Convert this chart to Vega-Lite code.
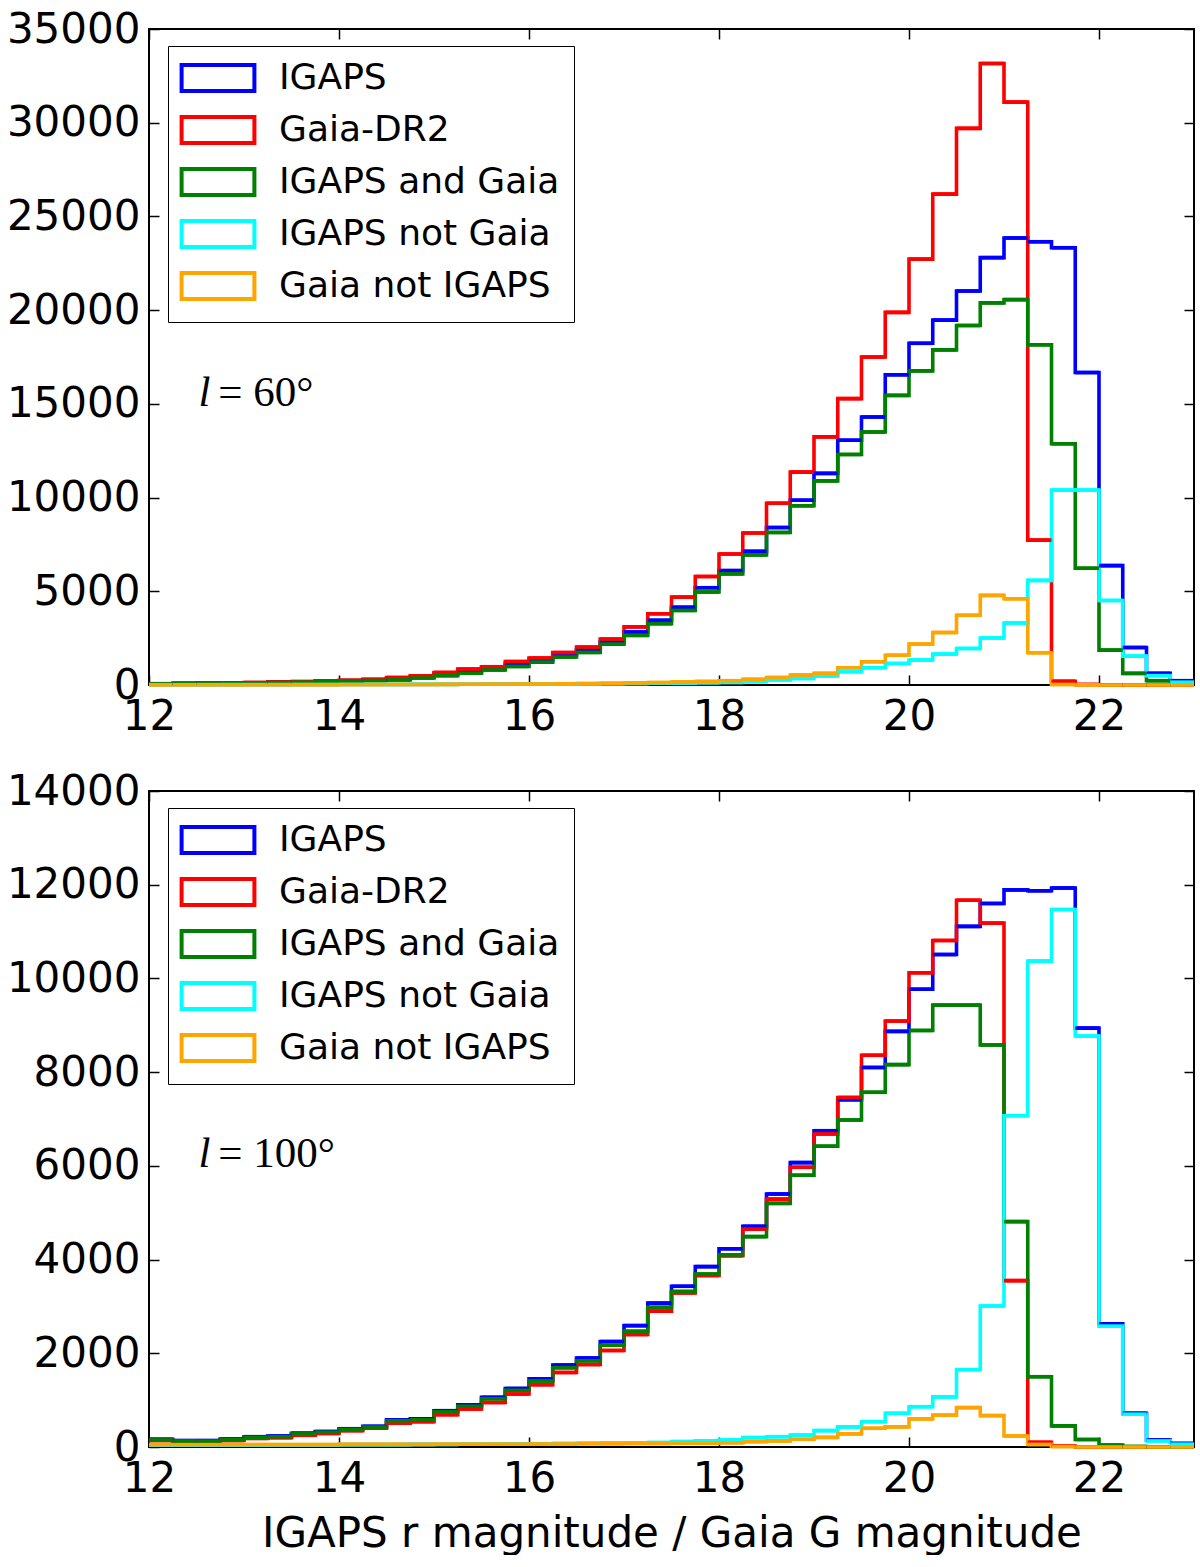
{
  "$schema": "https://vega.github.io/schema/vega-lite/v6.json",
  "padding": {"left": 5, "top": 7, "right": 0, "bottom": 0},
  "spacing": 31,
  "datasets": {
    "top": [
      {"m": 12.0, "m2": 12.25, "igaps": 65, "gaia": 70, "both": 60, "ionly": 15, "gonly": 10},
      {"m": 12.25, "m2": 12.5, "igaps": 80, "gaia": 90, "both": 70, "ionly": 15, "gonly": 10},
      {"m": 12.5, "m2": 12.75, "igaps": 85, "gaia": 90, "both": 80, "ionly": 15, "gonly": 15},
      {"m": 12.75, "m2": 13.0, "igaps": 100, "gaia": 110, "both": 90, "ionly": 20, "gonly": 15},
      {"m": 13.0, "m2": 13.25, "igaps": 120, "gaia": 130, "both": 110, "ionly": 20, "gonly": 15},
      {"m": 13.25, "m2": 13.5, "igaps": 145, "gaia": 160, "both": 130, "ionly": 20, "gonly": 20},
      {"m": 13.5, "m2": 13.75, "igaps": 165, "gaia": 180, "both": 150, "ionly": 25, "gonly": 20},
      {"m": 13.75, "m2": 14.0, "igaps": 200, "gaia": 220, "both": 180, "ionly": 25, "gonly": 20},
      {"m": 14.0, "m2": 14.25, "igaps": 230, "gaia": 250, "both": 210, "ionly": 30, "gonly": 25},
      {"m": 14.25, "m2": 14.5, "igaps": 275, "gaia": 300, "both": 240, "ionly": 30, "gonly": 25},
      {"m": 14.5, "m2": 14.75, "igaps": 330, "gaia": 400, "both": 270, "ionly": 30, "gonly": 30},
      {"m": 14.75, "m2": 15.0, "igaps": 430, "gaia": 490, "both": 370, "ionly": 35, "gonly": 30},
      {"m": 15.0, "m2": 15.25, "igaps": 580, "gaia": 670, "both": 500, "ionly": 35, "gonly": 35},
      {"m": 15.25, "m2": 15.5, "igaps": 740, "gaia": 850, "both": 630, "ionly": 40, "gonly": 40},
      {"m": 15.5, "m2": 15.75, "igaps": 890, "gaia": 975, "both": 800, "ionly": 45, "gonly": 45},
      {"m": 15.75, "m2": 16.0, "igaps": 1120, "gaia": 1250, "both": 990, "ionly": 50, "gonly": 50},
      {"m": 16.0, "m2": 16.25, "igaps": 1330, "gaia": 1440, "both": 1220, "ionly": 55, "gonly": 55},
      {"m": 16.25, "m2": 16.5, "igaps": 1610, "gaia": 1730, "both": 1490, "ionly": 60, "gonly": 65},
      {"m": 16.5, "m2": 16.75, "igaps": 1880, "gaia": 2020, "both": 1740, "ionly": 65, "gonly": 75},
      {"m": 16.75, "m2": 17.0, "igaps": 2300, "gaia": 2450, "both": 2180, "ionly": 70, "gonly": 90},
      {"m": 17.0, "m2": 17.25, "igaps": 2830, "gaia": 3100, "both": 2650, "ionly": 80, "gonly": 110},
      {"m": 17.25, "m2": 17.5, "igaps": 3450, "gaia": 3800, "both": 3270, "ionly": 90, "gonly": 130},
      {"m": 17.5, "m2": 17.75, "igaps": 4150, "gaia": 4690, "both": 3980, "ionly": 100, "gonly": 160},
      {"m": 17.75, "m2": 18.0, "igaps": 5190, "gaia": 5790, "both": 4960, "ionly": 120, "gonly": 190},
      {"m": 18.0, "m2": 18.25, "igaps": 6100, "gaia": 6990, "both": 5930, "ionly": 140, "gonly": 230},
      {"m": 18.25, "m2": 18.5, "igaps": 7130, "gaia": 8110, "both": 6940, "ionly": 180, "gonly": 300},
      {"m": 18.5, "m2": 18.75, "igaps": 8400, "gaia": 9700, "both": 8140, "ionly": 270, "gonly": 400},
      {"m": 18.75, "m2": 19.0, "igaps": 9860, "gaia": 11360, "both": 9560, "ionly": 350, "gonly": 530},
      {"m": 19.0, "m2": 19.25, "igaps": 11290, "gaia": 13240, "both": 10890, "ionly": 480, "gonly": 620},
      {"m": 19.25, "m2": 19.5, "igaps": 13060, "gaia": 15280, "both": 12300, "ionly": 710, "gonly": 920},
      {"m": 19.5, "m2": 19.75, "igaps": 14300, "gaia": 17500, "both": 13500, "ionly": 920, "gonly": 1240},
      {"m": 19.75, "m2": 20.0, "igaps": 16550, "gaia": 19880, "both": 15450, "ionly": 1150, "gonly": 1590},
      {"m": 20.0, "m2": 20.25, "igaps": 18230, "gaia": 22720, "both": 16760, "ionly": 1330, "gonly": 2180},
      {"m": 20.25, "m2": 20.5, "igaps": 19470, "gaia": 26190, "both": 17880, "ionly": 1650, "gonly": 2800},
      {"m": 20.5, "m2": 20.75, "igaps": 21020, "gaia": 29700, "both": 19180, "ionly": 1950, "gonly": 3720},
      {"m": 20.75, "m2": 21.0, "igaps": 22800, "gaia": 33160, "both": 20390, "ionly": 2510, "gonly": 4780},
      {"m": 21.0, "m2": 21.25, "igaps": 23850, "gaia": 31100, "both": 20560, "ionly": 3310, "gonly": 4600},
      {"m": 21.25, "m2": 21.5, "igaps": 23650, "gaia": 7730, "both": 18150, "ionly": 5580, "gonly": 1720},
      {"m": 21.5, "m2": 21.75, "igaps": 23330, "gaia": 200, "both": 12870, "ionly": 10400, "gonly": 30},
      {"m": 21.75, "m2": 22.0, "igaps": 16670, "gaia": 30, "both": 6230, "ionly": 10400, "gonly": 10},
      {"m": 22.0, "m2": 22.25, "igaps": 6370, "gaia": 10, "both": 1860, "ionly": 4510, "gonly": 0},
      {"m": 22.25, "m2": 22.5, "igaps": 2000, "gaia": 0, "both": 620, "ionly": 1540, "gonly": 0},
      {"m": 22.5, "m2": 22.75, "igaps": 620, "gaia": 0, "both": 230, "ionly": 500, "gonly": 0},
      {"m": 22.75, "m2": 23.0, "igaps": 230, "gaia": 0, "both": 50, "ionly": 150, "gonly": 0}
    ],
    "bottom": [
      {"m": 12.0, "m2": 12.25, "igaps": 165, "gaia": 140, "both": 150, "ionly": 40, "gonly": 50},
      {"m": 12.25, "m2": 12.5, "igaps": 135, "gaia": 120, "both": 125, "ionly": 40, "gonly": 50},
      {"m": 12.5, "m2": 12.75, "igaps": 135, "gaia": 115, "both": 125, "ionly": 40, "gonly": 50},
      {"m": 12.75, "m2": 13.0, "igaps": 170, "gaia": 140, "both": 160, "ionly": 40, "gonly": 50},
      {"m": 13.0, "m2": 13.25, "igaps": 220, "gaia": 185, "both": 205, "ionly": 40, "gonly": 50},
      {"m": 13.25, "m2": 13.5, "igaps": 235, "gaia": 200, "both": 220, "ionly": 45, "gonly": 50},
      {"m": 13.5, "m2": 13.75, "igaps": 295, "gaia": 250, "both": 280, "ionly": 45, "gonly": 50},
      {"m": 13.75, "m2": 14.0, "igaps": 330, "gaia": 290, "both": 315, "ionly": 45, "gonly": 50},
      {"m": 14.0, "m2": 14.25, "igaps": 390, "gaia": 350, "both": 375, "ionly": 50, "gonly": 55},
      {"m": 14.25, "m2": 14.5, "igaps": 440, "gaia": 400, "both": 425, "ionly": 50, "gonly": 55},
      {"m": 14.5, "m2": 14.75, "igaps": 580, "gaia": 510, "both": 560, "ionly": 50, "gonly": 55},
      {"m": 14.75, "m2": 15.0, "igaps": 600, "gaia": 540, "both": 580, "ionly": 55, "gonly": 55},
      {"m": 15.0, "m2": 15.25, "igaps": 775, "gaia": 690, "both": 750, "ionly": 55, "gonly": 60},
      {"m": 15.25, "m2": 15.5, "igaps": 900, "gaia": 810, "both": 870, "ionly": 60, "gonly": 60},
      {"m": 15.5, "m2": 15.75, "igaps": 1060, "gaia": 950, "both": 1030, "ionly": 60, "gonly": 60},
      {"m": 15.75, "m2": 16.0, "igaps": 1250, "gaia": 1130, "both": 1210, "ionly": 65, "gonly": 60},
      {"m": 16.0, "m2": 16.25, "igaps": 1455, "gaia": 1330, "both": 1410, "ionly": 70, "gonly": 65},
      {"m": 16.25, "m2": 16.5, "igaps": 1750, "gaia": 1590, "both": 1690, "ionly": 75, "gonly": 65},
      {"m": 16.5, "m2": 16.75, "igaps": 1900, "gaia": 1760, "both": 1840, "ionly": 80, "gonly": 70},
      {"m": 16.75, "m2": 17.0, "igaps": 2250, "gaia": 2060, "both": 2170, "ionly": 85, "gonly": 70},
      {"m": 17.0, "m2": 17.25, "igaps": 2590, "gaia": 2400, "both": 2470, "ionly": 90, "gonly": 75},
      {"m": 17.25, "m2": 17.5, "igaps": 3070, "gaia": 2900, "both": 2980, "ionly": 95, "gonly": 75},
      {"m": 17.5, "m2": 17.75, "igaps": 3430, "gaia": 3290, "both": 3320, "ionly": 115, "gonly": 80},
      {"m": 17.75, "m2": 18.0, "igaps": 3850, "gaia": 3660, "both": 3690, "ionly": 130, "gonly": 80},
      {"m": 18.0, "m2": 18.25, "igaps": 4230, "gaia": 4080, "both": 4100, "ionly": 150, "gonly": 90},
      {"m": 18.25, "m2": 18.5, "igaps": 4710, "gaia": 4650, "both": 4490, "ionly": 200, "gonly": 115},
      {"m": 18.5, "m2": 18.75, "igaps": 5400, "gaia": 5290, "both": 5200, "ionly": 220, "gonly": 130},
      {"m": 18.75, "m2": 19.0, "igaps": 6070, "gaia": 5970, "both": 5800, "ionly": 255, "gonly": 165},
      {"m": 19.0, "m2": 19.25, "igaps": 6750, "gaia": 6680, "both": 6420, "ionly": 350, "gonly": 205},
      {"m": 19.25, "m2": 19.5, "igaps": 7410, "gaia": 7460, "both": 6980, "ionly": 430, "gonly": 280},
      {"m": 19.5, "m2": 19.75, "igaps": 8100, "gaia": 8360, "both": 7570, "ionly": 540, "gonly": 400},
      {"m": 19.75, "m2": 20.0, "igaps": 8870, "gaia": 9090, "both": 8160, "ionly": 720, "gonly": 430},
      {"m": 20.0, "m2": 20.25, "igaps": 9770, "gaia": 10120, "both": 8890, "ionly": 860, "gonly": 600},
      {"m": 20.25, "m2": 20.5, "igaps": 10510, "gaia": 10810, "both": 9430, "ionly": 1070, "gonly": 680},
      {"m": 20.5, "m2": 20.75, "igaps": 11110, "gaia": 11670, "both": 9430, "ionly": 1650, "gonly": 840},
      {"m": 20.75, "m2": 21.0, "igaps": 11600, "gaia": 11180, "both": 8580, "ionly": 3010, "gonly": 670},
      {"m": 21.0, "m2": 21.25, "igaps": 11890, "gaia": 3550, "both": 4810, "ionly": 7070, "gonly": 235},
      {"m": 21.25, "m2": 21.5, "igaps": 11870, "gaia": 100, "both": 1500, "ionly": 10370, "gonly": 55},
      {"m": 21.5, "m2": 21.75, "igaps": 11930, "gaia": 20, "both": 450, "ionly": 11470, "gonly": 10},
      {"m": 21.75, "m2": 22.0, "igaps": 8940, "gaia": 0, "both": 160, "ionly": 8770, "gonly": 0},
      {"m": 22.0, "m2": 22.25, "igaps": 2630, "gaia": 0, "both": 40, "ionly": 2580, "gonly": 0},
      {"m": 22.25, "m2": 22.5, "igaps": 720, "gaia": 0, "both": 10, "ionly": 700, "gonly": 0},
      {"m": 22.5, "m2": 22.75, "igaps": 150, "gaia": 0, "both": 0, "ionly": 130, "gonly": 0},
      {"m": 22.75, "m2": 23.0, "igaps": 80, "gaia": 0, "both": 0, "ionly": 60, "gonly": 0}
    ]
  },
  "vconcat": [
    {
      "width": 1045,
      "height": 656,
      "layer": [
        {
          "data": {"name": "top"},
          "transform": [{"fold": ["igaps", "gaia", "both", "ionly", "gonly"], "as": ["s", "n"]}],
          "mark": {"type": "line", "interpolate": "step-after", "strokeWidth": 3.6},
          "encoding": {
            "x": {"field": "m", "type": "quantitative", "scale": {"domain": [12, 23], "nice": false, "zero": false},
                  "axis": {"orient": "bottom", "values": [12, 14, 16, 18, 20, 22], "labelPadding": 21, "title": null}},
            "y": {"field": "n", "type": "quantitative", "scale": {"domain": [0, 35000], "nice": false},
                  "axis": {"orient": "left", "values": [0, 5000, 10000, 15000, 20000, 25000, 30000, 35000], "format": "d", "labelPadding": 19, "title": null}},
            "color": {"field": "s", "type": "nominal",
                      "scale": {"domain": ["igaps", "gaia", "both", "ionly", "gonly"], "range": ["#0000ff", "#ff0000", "#008000", "#00ffff", "#ffa500"]},
                      "legend": {"orient": "none", "legendX": 19, "legendY": 17, "title": null,
                                 "labelExpr": "{'igaps': 'IGAPS', 'gaia': 'Gaia-DR2', 'both': 'IGAPS and Gaia', 'ionly': 'IGAPS not Gaia', 'gonly': 'Gaia not IGAPS'}[datum.label]",
                                 "symbolType": "M-2.6,-0.93H2.6V0.93H-2.6Z", "symbolSize": 784, "symbolStrokeWidth": 4, "symbolFillColor": "transparent",
                                 "symbolOffset": 18, "labelOffset": 43, "labelFontSize": 36, "labelFont": "DejaVu Sans", "labelColor": "black", "labelLimit": 0,
                                 "rowPadding": 8, "padding": 14, "strokeColor": "black", "fillColor": "white", "cornerRadius": 0}}
          }
        },
        {
          "data": {"name": "top"},
          "transform": [{"fold": ["igaps", "gaia", "both", "ionly", "gonly"], "as": ["s", "n"]}],
          "mark": {"type": "rule", "strokeWidth": 3.6},
          "encoding": {
            "x": {"field": "m", "type": "quantitative", "scale": {"domain": [12, 23], "nice": false, "zero": false},
                  "axis": {"orient": "top", "values": [12, 14, 16, 18, 20, 22], "labels": false, "title": null}},
            "x2": {"field": "m2"},
            "y": {"field": "n", "type": "quantitative", "scale": {"domain": [0, 35000], "nice": false},
                  "axis": {"orient": "right", "values": [0, 5000, 10000, 15000, 20000, 25000, 30000, 35000], "labels": false, "title": null}},
            "color": {"field": "s", "type": "nominal",
                      "scale": {"domain": ["igaps", "gaia", "both", "ionly", "gonly"], "range": ["#0000ff", "#ff0000", "#008000", "#00ffff", "#ffa500"]},
                      "legend": null}
          }
        },
        {
          "data": {"values": [{"x": 12.52, "y": 14860, "t": "l"}]},
          "mark": {"type": "text", "font": "Liberation Serif", "fontSize": 43, "fontStyle": "italic", "align": "left", "baseline": "alphabetic", "color": "black"},
          "encoding": {
            "x": {"field": "x", "type": "quantitative", "scale": {"domain": [12, 23], "nice": false, "zero": false}, "axis": null},
            "y": {"field": "y", "type": "quantitative", "scale": {"domain": [0, 35000], "nice": false}, "axis": null},
            "text": {"field": "t"}
          }
        },
        {
          "data": {"values": [{"x": 12.73, "y": 14860, "t": "= 60°"}]},
          "mark": {"type": "text", "font": "Liberation Serif", "fontSize": 43, "align": "left", "baseline": "alphabetic", "color": "black"},
          "encoding": {
            "x": {"field": "x", "type": "quantitative", "scale": {"domain": [12, 23], "nice": false, "zero": false}, "axis": null},
            "y": {"field": "y", "type": "quantitative", "scale": {"domain": [0, 35000], "nice": false}, "axis": null},
            "text": {"field": "t"}
          }
        }
      ],
      "resolve": {"axis": {"x": "independent", "y": "independent"}}
    },
    {
      "width": 1045,
      "height": 656,
      "layer": [
        {
          "data": {"name": "bottom"},
          "transform": [{"fold": ["igaps", "gaia", "both", "ionly", "gonly"], "as": ["s", "n"]}],
          "mark": {"type": "line", "interpolate": "step-after", "strokeWidth": 3.6},
          "encoding": {
            "x": {"field": "m", "type": "quantitative", "scale": {"domain": [12, 23], "nice": false, "zero": false},
                  "axis": {"orient": "bottom", "values": [12, 14, 16, 18, 20, 22], "labelPadding": 21, "title": "IGAPS r magnitude / Gaia G magnitude", "titlePadding": 14}},
            "y": {"field": "n", "type": "quantitative", "scale": {"domain": [0, 14000], "nice": false},
                  "axis": {"orient": "left", "values": [0, 2000, 4000, 6000, 8000, 10000, 12000, 14000], "format": "d", "labelPadding": 19, "title": null}},
            "color": {"field": "s", "type": "nominal",
                      "scale": {"domain": ["igaps", "gaia", "both", "ionly", "gonly"], "range": ["#0000ff", "#ff0000", "#008000", "#00ffff", "#ffa500"]},
                      "legend": {"orient": "none", "legendX": 19, "legendY": 17, "title": null,
                                 "labelExpr": "{'igaps': 'IGAPS', 'gaia': 'Gaia-DR2', 'both': 'IGAPS and Gaia', 'ionly': 'IGAPS not Gaia', 'gonly': 'Gaia not IGAPS'}[datum.label]",
                                 "symbolType": "M-2.6,-0.93H2.6V0.93H-2.6Z", "symbolSize": 784, "symbolStrokeWidth": 4, "symbolFillColor": "transparent",
                                 "symbolOffset": 18, "labelOffset": 43, "labelFontSize": 36, "labelFont": "DejaVu Sans", "labelColor": "black", "labelLimit": 0,
                                 "rowPadding": 8, "padding": 14, "strokeColor": "black", "fillColor": "white", "cornerRadius": 0}}
          }
        },
        {
          "data": {"name": "bottom"},
          "transform": [{"fold": ["igaps", "gaia", "both", "ionly", "gonly"], "as": ["s", "n"]}],
          "mark": {"type": "rule", "strokeWidth": 3.6},
          "encoding": {
            "x": {"field": "m", "type": "quantitative", "scale": {"domain": [12, 23], "nice": false, "zero": false},
                  "axis": {"orient": "top", "values": [12, 14, 16, 18, 20, 22], "labels": false, "title": null}},
            "x2": {"field": "m2"},
            "y": {"field": "n", "type": "quantitative", "scale": {"domain": [0, 14000], "nice": false},
                  "axis": {"orient": "right", "values": [0, 2000, 4000, 6000, 8000, 10000, 12000, 14000], "labels": false, "title": null}},
            "color": {"field": "s", "type": "nominal",
                      "scale": {"domain": ["igaps", "gaia", "both", "ionly", "gonly"], "range": ["#0000ff", "#ff0000", "#008000", "#00ffff", "#ffa500"]},
                      "legend": null}
          }
        },
        {
          "data": {"values": [{"x": 12.52, "y": 5966, "t": "l"}]},
          "mark": {"type": "text", "font": "Liberation Serif", "fontSize": 43, "fontStyle": "italic", "align": "left", "baseline": "alphabetic", "color": "black"},
          "encoding": {
            "x": {"field": "x", "type": "quantitative", "scale": {"domain": [12, 23], "nice": false, "zero": false}, "axis": null},
            "y": {"field": "y", "type": "quantitative", "scale": {"domain": [0, 14000], "nice": false}, "axis": null},
            "text": {"field": "t"}
          }
        },
        {
          "data": {"values": [{"x": 12.73, "y": 5966, "t": "= 100°"}]},
          "mark": {"type": "text", "font": "Liberation Serif", "fontSize": 43, "align": "left", "baseline": "alphabetic", "color": "black"},
          "encoding": {
            "x": {"field": "x", "type": "quantitative", "scale": {"domain": [12, 23], "nice": false, "zero": false}, "axis": null},
            "y": {"field": "y", "type": "quantitative", "scale": {"domain": [0, 14000], "nice": false}, "axis": null},
            "text": {"field": "t"}
          }
        }
      ],
      "resolve": {"axis": {"x": "independent", "y": "independent"}}
    }
  ],
  "resolve": {"scale": {"x": "independent", "y": "independent", "color": "independent"}, "legend": {"color": "independent"}},
  "config": {
    "view": {"stroke": "black", "strokeWidth": 2},
    "font": "DejaVu Sans",
    "axis": {
      "domain": false, "grid": false,
      "tickColor": "black", "tickWidth": 1.5, "tickSize": -10,
      "labelColor": "black", "labelFont": "DejaVu Sans", "labelFontSize": 42,
      "labelFlush": false, "labelOverlap": false,
      "titleFont": "DejaVu Sans", "titleFontSize": 42, "titleFontWeight": "normal", "titleColor": "black"
    }
  }
}
